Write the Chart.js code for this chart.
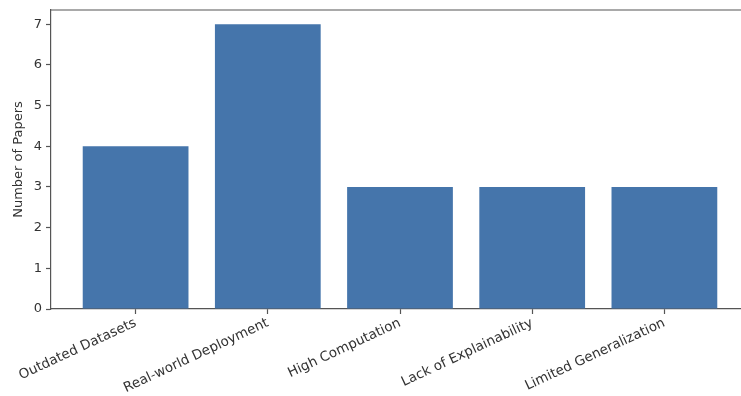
<!DOCTYPE html>
<html>
<head>
<meta charset="utf-8">
<script src="https://cdn.jsdelivr.net/npm/chart.js@4"></script>
<style>
  html, body { margin: 0; padding: 0; overflow: hidden; background: #fff; width: 741px; height: 396px; }
  #wrap { position: absolute; left: 0; top: 0; width: 760px; height: 396px; }
</style>
</head>
<body>
<div id="wrap"><canvas id="c" width="760" height="396"></canvas></div>
<script>
// Research gaps and how many papers mention each one
const categories = [
  'Outdated Datasets',
  'Real-world Deployment',
  'High Computation',
  'Lack of Explainability',
  'Limited Generalization'
];
const paperCounts = [4, 7, 3, 3, 3];
const yTickValues = [0, 1, 2, 3, 4, 5, 6, 7];

const FONT = 'DejaVu Sans';
const AXIS_COLOR = '#555';
const TEXT_COLOR = '#333';
const BAR_COLOR = '#4575ab';

// Draw the top and right frame lines around the plot area
const frame = {
  id: 'frame',
  afterDraw(chart) {
    const { ctx, chartArea: a } = chart;
    ctx.save();
    ctx.strokeStyle = AXIS_COLOR;
    ctx.lineWidth = 1.2;
    ctx.beginPath();
    ctx.moveTo(a.left, a.top);
    ctx.lineTo(a.right, a.top);
    ctx.lineTo(a.right, a.bottom);
    ctx.stroke();
    ctx.restore();
  }
};

new Chart(document.getElementById('c'), {
  type: 'bar',
  data: {
    datasets: [{
      data: paperCounts.map((v, i) => ({ x: i, y: v })),
      backgroundColor: BAR_COLOR,
      borderWidth: 0,
      barPercentage: 0.8,
      categoryPercentage: 1.0
    }]
  },
  options: {
    responsive: false,
    devicePixelRatio: 1,
    animation: false,
    layout: { padding: { top: 10, right: 11, left: 0, bottom: 0 } },
    plugins: { legend: { display: false }, tooltip: { enabled: false }, title: { display: false } },
    scales: {
      x: {
        type: 'linear',
        min: -0.64,
        max: 4.64,
        offset: false,
        afterBuildTicks(scale) { scale.ticks = categories.map((_, i) => ({ value: i })); },
        afterFit(scale) { scale.height = 87; scale.paddingLeft = 0; scale.paddingRight = 0; },
        ticks: {
          autoSkip: false,
          minRotation: 25,
          maxRotation: 25,
          padding: 1,
          color: TEXT_COLOR,
          font: { family: FONT, size: 13.5 },
          callback: (v) => categories[v]
        },
        grid: { offset: false, drawOnChartArea: false, drawTicks: true, tickLength: 5, color: AXIS_COLOR, tickWidth: 1.2 },
        border: { display: true, color: AXIS_COLOR, width: 1.2 }
      },
      y: {
        min: 0,
        max: 7.35,
        afterBuildTicks(scale) { scale.ticks = yTickValues.map(v => ({ value: v })); },
        afterFit(scale) { scale.width = 51; scale.paddingTop = 0; scale.paddingBottom = 0; },
        ticks: {
          padding: 4,
          color: TEXT_COLOR,
          font: { family: FONT, size: 13 }
        },
        title: {
          display: true,
          text: 'Number of Papers',
          color: TEXT_COLOR,
          font: { family: FONT, size: 13 },
          padding: { top: 11, bottom: 2 }
        },
        grid: { offset: false, drawOnChartArea: false, drawTicks: true, tickLength: 5, color: AXIS_COLOR, tickWidth: 1.2 },
        border: { display: true, color: AXIS_COLOR, width: 1.2 }
      }
    }
  },
  plugins: [frame]
});
</script>
</body>
</html>
